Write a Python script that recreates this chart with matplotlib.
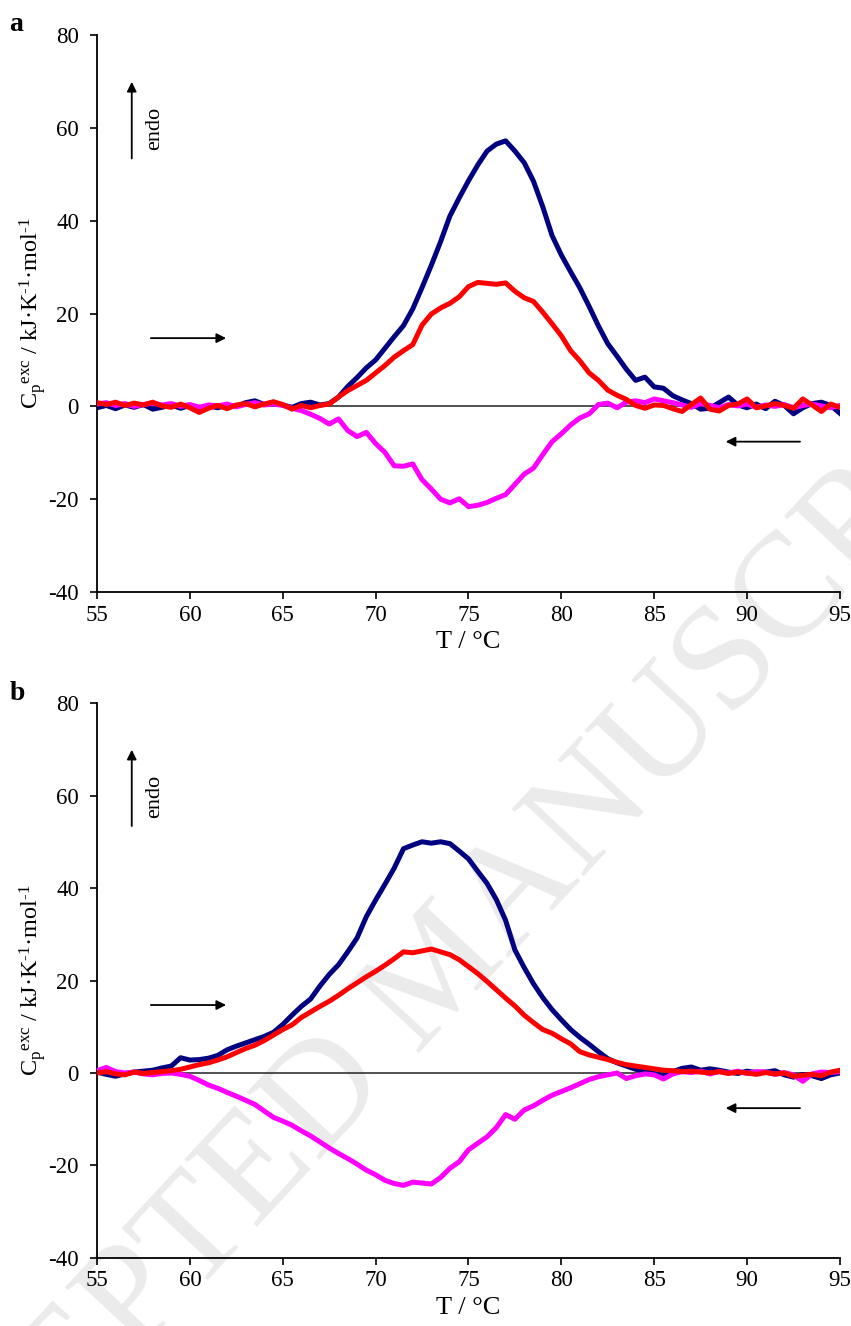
import numpy as np
import matplotlib
matplotlib.use('Agg')
import matplotlib.pyplot as plt

# Font: Times-like serif, as in the original figure
plt.rcParams['font.family'] = ['Liberation Serif', 'DejaVu Serif']
plt.rcParams['mathtext.fontset'] = 'custom'
plt.rcParams['mathtext.rm'] = 'Liberation Serif'
plt.rcParams['mathtext.it'] = 'Liberation Serif:italic'
plt.rcParams['axes.unicode_minus'] = False

# Temperature grid (°C), 0.5 °C steps
temp = np.arange(55.0, 95.01, 0.5)

# Panel a - excess heat capacity (kJ K-1 mol-1)
a_blu = [-0.3, 0.2, -0.5, 0.3, -0.2, 0.4, -0.6, -0.2, 0.3, -0.4,
         0.2, -0.8, 0.1, -0.3, 0.3, 0.0, 0.8, 1.2, 0.4, 0.9,
         0.3, -0.2, 0.6, 0.9, 0.3, 0.6, 2.0, 4.3, 6.2, 8.3,
         10.0, 12.5, 15.0, 17.4, 21.0, 25.6, 30.4, 35.5, 41.0, 44.9,
         48.6, 52.0, 55.0, 56.5, 57.2, 55.0, 52.5, 48.5, 43.0, 36.8,
         32.6, 29.0, 25.5, 21.5, 17.3, 13.5, 10.8, 8.0, 5.6, 6.3,
         4.2, 3.9, 2.3, 1.4, 0.6, -0.6, -0.4, 0.8, 2.0, 0.3,
         -0.3, 0.5, -0.5, 1.1, 0.2, -1.6, -0.3, 0.6, 0.9, 0.2,
         -1.5]
a_red = [0.8, 0.4, 0.9, 0.2, 0.7, 0.3, 0.9, 0.1, -0.2, 0.5,
         -0.3, -1.3, -0.4, 0.2, -0.5, 0.3, 0.6, -0.1, 0.5, 1.0,
         0.4, -0.6, 0.2, -0.3, 0.2, 0.5, 2.0, 3.4, 4.5, 5.6,
         7.2, 8.8, 10.6, 12.0, 13.3, 17.5, 19.9, 21.2, 22.2, 23.6,
         25.8, 26.7, 26.5, 26.3, 26.6, 24.8, 23.4, 22.6, 20.3, 17.8,
         15.2, 12.0, 9.8, 7.2, 5.6, 3.5, 2.4, 1.5, 0.2, -0.4,
         0.3, 0.2, -0.5, -1.1, 0.4, 1.8, -0.6, -1.0, 0.2, 0.5,
         1.6, -0.3, 0.1, 0.6, 0.2, -0.4, 1.6, 0.3, -1.1, 0.5,
         -0.2]
a_mag = [0.5, 0.8, 0.2, 0.6, 0.0, 0.4, 0.7, 0.3, 0.6, 0.0,
         0.4, -0.2, 0.3, 0.1, 0.5, -0.1, 0.4, 0.8, 0.3, 0.5,
         0.2, -0.4, -0.9, -1.7, -2.6, -3.8, -2.7, -5.2, -6.5, -5.6,
         -8.0, -9.9, -12.8, -12.9, -12.4, -15.8, -17.8, -20.0, -20.8, -19.9,
         -21.6, -21.3, -20.7, -19.8, -19.0, -16.8, -14.6, -13.3, -10.4, -7.6,
         -5.9, -4.0, -2.5, -1.6, 0.4, 0.7, -0.3, 0.9, 1.2, 0.8,
         1.6, 1.2, 0.8, 0.3, -0.2, 0.6, 0.2, -0.3, 0.4, 0.1,
         0.5, -0.2, 0.3, 0.0, 0.4, -0.3, 0.2, 0.5, 0.1, -0.3,
         0.2]

# Panel b
b_blu = [0.2, -0.3, -0.7, -0.2, 0.2, 0.4, 0.6, 1.1, 1.5, 3.3,
         2.8, 2.9, 3.2, 3.8, 5.0, 5.8, 6.5, 7.2, 7.9, 8.8,
         10.5, 12.5, 14.4, 16.0, 18.8, 21.3, 23.4, 26.2, 29.2, 33.8,
         37.4, 40.8, 44.3, 48.5, 49.3, 50.0, 49.7, 50.0, 49.6, 48.0,
         46.3, 43.6, 41.0, 37.5, 33.0, 26.6, 22.8, 19.3, 16.3, 13.7,
         11.5, 9.4, 7.7, 6.2, 4.6, 3.1, 2.2, 1.5, 0.8, 0.4,
         -0.1, -0.6, 0.3, 1.0, 1.3, 0.6, 0.9, 0.6, 0.2, -0.1,
         0.4, 0.1, 0.2, 0.5, -0.4, -0.9, -0.3, -0.6, -1.2, -0.4,
         0.0]
b_red = [0.0, 0.3, -0.2, -0.4, 0.2, -0.1, 0.1, 0.3, 0.5, 0.8,
         1.3, 1.8, 2.2, 2.8, 3.5, 4.4, 5.3, 6.0, 7.0, 8.2,
         9.4, 10.4, 12.0, 13.2, 14.4, 15.5, 16.8, 18.2, 19.5, 20.8,
         22.0, 23.3, 24.7, 26.2, 26.0, 26.4, 26.8, 26.2, 25.6, 24.5,
         23.0, 21.5, 19.8, 18.0, 16.2, 14.5, 12.5, 10.9, 9.4, 8.6,
         7.4, 6.3, 4.6, 3.9, 3.4, 2.9, 2.3, 1.8, 1.5, 1.2,
         0.9, 0.6, 0.5, 0.3, 0.4, 0.2, 0.0, 0.3, -0.1, 0.2,
         0.0, -0.3, 0.1, -0.2, 0.0, -0.7, -0.5, -0.3, -0.6, 0.2,
         0.6]
b_mag = [0.5, 1.2, 0.3, 0.0, 0.2, -0.2, -0.4, -0.1, 0.0, -0.3,
         -0.7, -1.6, -2.6, -3.3, -4.2, -5.0, -5.9, -6.8, -8.2, -9.6,
         -10.4, -11.3, -12.5, -13.6, -14.9, -16.2, -17.4, -18.5, -19.7, -21.0,
         -22.0, -23.2, -23.9, -24.3, -23.6, -23.8, -24.0, -22.6, -20.6, -19.2,
         -16.6, -15.2, -13.8, -11.8, -9.0, -10.0, -8.0, -7.1, -5.9, -4.8,
         -4.0, -3.2, -2.3, -1.4, -0.8, -0.4, 0.0, -1.2, -0.6, -0.2,
         -0.4, -1.3, -0.2, 0.3, 0.1, 0.4, -0.2, 0.3, 0.0, 0.4,
         -0.1, 0.3, 0.2, -0.3, 0.1, -0.4, -1.8, -0.2, 0.2, 0.1,
         0.3]

x_ticks = [55, 60, 65, 70, 75, 80, 85, 90, 95]
y_ticks = [-40, -20, 0, 20, 40, 60, 80]

col_blu = '#000080'
col_red = '#ff0000'
col_mag = '#ff00ff'

fig = plt.figure(figsize=(8.51, 13.26), dpi=100)

# watermark behind the plots
fig.text(0.52, 0.265, 'ACCEPTED MANUSCRIPT', fontsize=108, color='#ebebeb',
         rotation=47, ha='center', va='center', rotation_mode='anchor', zorder=-5)

ax_a = fig.add_axes([0.114, 0.5535, 0.873, 0.4201])
ax_b = fig.add_axes([0.114, 0.0513, 0.873, 0.4185])

ylab = 'C$_{\\mathrm{p}}$$^{\\mathrm{exc}}$ / kJ·K$^{\\mathrm{\u2010}1}$·mol$^{\\mathrm{\u2010}1}$'


def disegna(ax, blu, red, mag, lettera):
    ax.patch.set_visible(False)
    ax.axhline(0, color='#333333', lw=1.2, zorder=1)
    ax.plot(temp, blu, color=col_blu, lw=3.6, zorder=2)
    ax.plot(temp, mag, color=col_mag, lw=3.6, zorder=3)
    ax.plot(temp, red, color=col_red, lw=3.6, zorder=4)

    ax.set_xlim(55, 95)
    ax.set_ylim(-40, 80)
    ax.set_xticks(x_ticks)
    ax.set_yticks(y_ticks)
    for s in ['top', 'right']:
        ax.spines[s].set_visible(False)
    for s in ['left', 'bottom']:
        ax.spines[s].set_linewidth(1.3)
    ax.tick_params(direction='out', length=5, width=1.2, labelsize=16.5)
    ax.tick_params(axis='x', pad=4)
    ax.tick_params(axis='y', pad=8)
    ax.set_xlabel('T / °C', fontsize=19, labelpad=4)
    ax.set_ylabel(ylab, fontsize=17.5, labelpad=0)

    # frecce
    ax.annotate('', xy=(56.87, 70.5), xytext=(56.87, 52.8),
                arrowprops=dict(arrowstyle='-|>', color='black', lw=1.3, mutation_scale=14))
    ax.text(58.1, 59.8, 'endo', rotation=90, fontsize=16, ha='center', va='center')
    ax.annotate('', xy=(62.1, 14.7), xytext=(57.75, 14.7),
                arrowprops=dict(arrowstyle='-|>', color='black', lw=1.3, mutation_scale=14))
    ax.annotate('', xy=(88.7, -7.6), xytext=(93.0, -7.6),
                arrowprops=dict(arrowstyle='-|>', color='black', lw=1.3, mutation_scale=14))

    ax.text(-0.118, 1.018, lettera, transform=ax.transAxes, fontsize=20,
            fontweight='bold', ha='left', va='center')


disegna(ax_a, a_blu, a_red, a_mag, 'a')
disegna(ax_b, b_blu, b_red, b_mag, 'b')

fig.savefig('out.png', dpi=100)
